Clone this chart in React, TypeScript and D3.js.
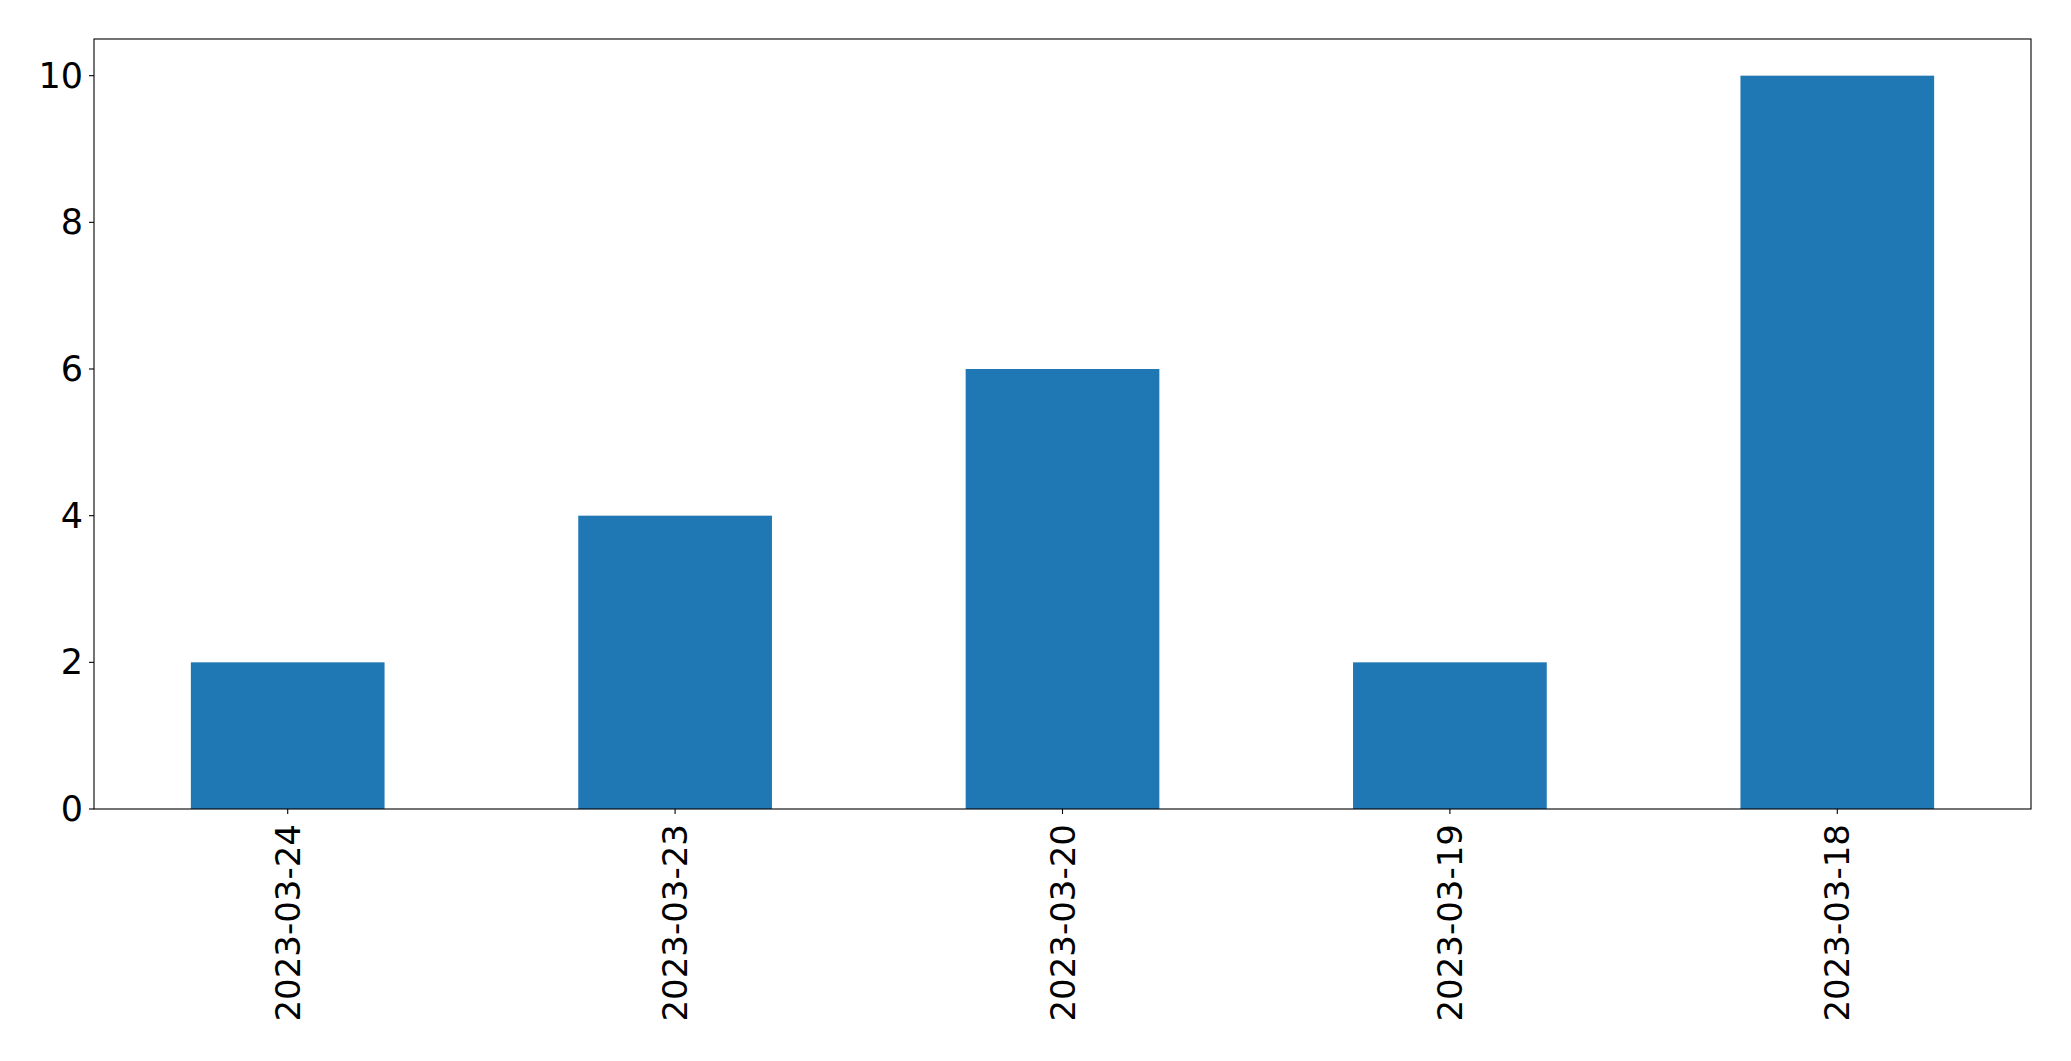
import React from "react";
import * as d3 from "d3";

const categories: string[] = ["2023-03-24", "2023-03-23", "2023-03-20", "2023-03-19", "2023-03-18"];
const values: number[] = [2, 4, 6, 2, 10];
const yTicks: number[] = [0, 2, 4, 6, 8, 10];

const W = 2071;
const H = 1061;
const M = { left: 94, right: 2031, top: 39, bottom: 809 };
const FONT = "DejaVu Sans, sans-serif";
const FS = 35;
const FSX = 34;

export default function App() {
  const x = d3
    .scaleBand<string>()
    .domain(categories)
    .range([M.left, M.right])
    .paddingInner(0.5)
    .paddingOuter(0.25);
  const y = d3.scaleLinear().domain([0, 10.5]).range([M.bottom, M.top]);

  return (
    <svg
      width={W}
      height={H}
      style={{ position: "absolute", left: 0, top: 0, display: "block", background: "#fff" }}
    >
      <rect x={0} y={0} width={W} height={H} fill="#fff" />
      {categories.map((c, i) => (
        <rect
          key={c}
          x={x(c)!}
          y={y(values[i])}
          width={x.bandwidth()}
          height={y(0) - y(values[i])}
          fill="#1f77b4"
        />
      ))}
      <rect
        x={M.left}
        y={M.top}
        width={M.right - M.left}
        height={M.bottom - M.top}
        fill="none"
        stroke="#000"
        strokeWidth={1.1}
      />
      {yTicks.map((t) => (
        <g key={t}>
          <line x1={M.left - 5} x2={M.left} y1={y(t)} y2={y(t)} stroke="#000" strokeWidth={1.1} />
          <text
            x={M.left - 11}
            y={y(t)}
            textAnchor="end"
            dominantBaseline="central"
            fontFamily={FONT}
            fontSize={FS}
            fill="#000"
          >
            {t}
          </text>
        </g>
      ))}
      {categories.map((c) => {
        const cx = x(c)! + x.bandwidth() / 2;
        return (
          <g key={c}>
            <line x1={cx} x2={cx} y1={M.bottom} y2={M.bottom + 5} stroke="#000" strokeWidth={1.1} />
            <text
              transform={`translate(${cx},${M.bottom + 15}) rotate(-90)`}
              textAnchor="end"
              dominantBaseline="central"
              fontFamily={FONT}
              fontSize={FSX}
              fill="#000"
            >
              {c}
            </text>
          </g>
        );
      })}
    </svg>
  );
}
